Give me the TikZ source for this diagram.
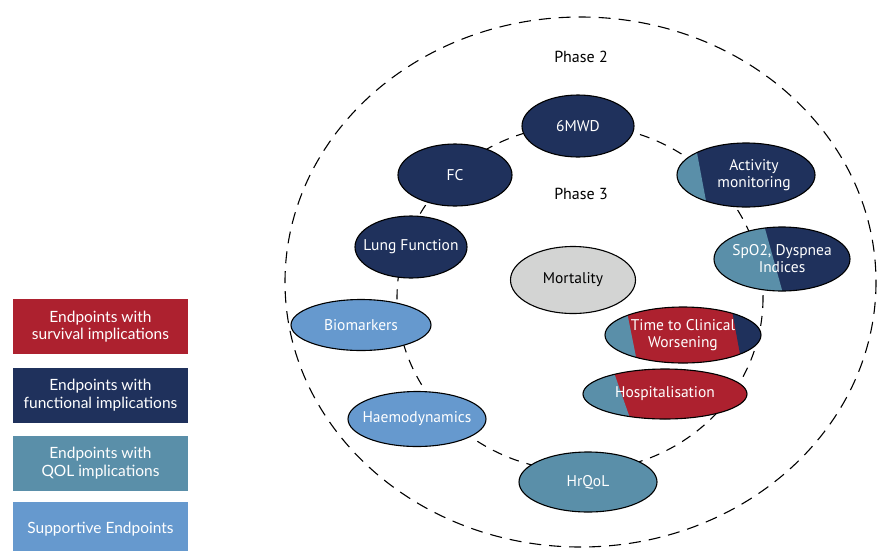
\documentclass[tikz,border=0pt]{standalone}
\usepackage{fontspec}
\setmainfont{PT Sans}
\newfontfamily\legfont{Lato}
\usetikzlibrary{shapes.geometric}
\definecolor{survred}{HTML}{AD212F}
\definecolor{funcnavy}{HTML}{1F315C}
\definecolor{qolteal}{HTML}{5A8FA9}
\definecolor{suppblue}{HTML}{6699CE}
\definecolor{mortgray}{HTML}{D3D4D3}
\tikzset{
  ep/.style={ellipse, draw=black, line width=1.1pt, inner ysep=0pt, inner xsep=-25pt, text=white, align=center, font=\fontsize{15.5}{17}\selectfont},
  legbox/.style={rectangle, minimum width=175pt, minimum height=55pt, inner sep=0pt, text=white, align=center, font=\legfont\fontsize{15.5}{17.5}\selectfont},
  ring/.style={dash pattern=on 12pt off 8pt, line width=1.1pt},
  phase/.style={font=\fontsize{16}{18}\selectfont},
}

\begin{document}
\begin{tikzpicture}[x=1pt, y=-1pt]
\useasboundingbox (0,0) rectangle (878,550);

% phase 2 and phase 3 rings
\draw[ring] (580.5,282) ellipse [x radius=295.5, y radius=265];
\draw[ring, dash pattern=on 10pt off 8pt] (580,298) ellipse [x radius=183, y radius=173];

\node[phase] (ph2) at (581,57) {Phase 2};
\node[phase] (ph3) at (581,194) {Phase 3};

% endpoints, one colour
\node[ep, fill=funcnavy, minimum width=112pt, minimum height=62pt] (mwd) at (578,126) {6MWD};
\node[ep, fill=funcnavy, minimum width=114pt, minimum height=62pt] (fc) at (455,175) {FC};
\node[ep, fill=funcnavy, minimum width=112pt, minimum height=62pt] (lung) at (411,247) {Lung Function};
\node[ep, fill=suppblue, minimum width=140pt, minimum height=51pt] (bio) at (361,325) {Biomarkers};
\node[ep, fill=suppblue, minimum width=138pt, minimum height=55pt] (haemo) at (417,419) {Haemodynamics};
\node[ep, fill=qolteal, minimum width=138pt, minimum height=60pt] (hrqol) at (588,482) {HrQoL};
\node[ep, fill=mortgray, text=black, minimum width=125pt, minimum height=67pt] (mort) at (573,280) {Mortality};

% endpoints, split colours
\begin{scope}
  \clip (746,175) ellipse [x radius=69, y radius=32];
  \fill[funcnavy] (670,140) rectangle (820,210);
  \fill[qolteal] (670,140) -- (694.6,140) -- (707.7,210) -- (670,210) -- cycle;
\end{scope}
\node[ep, minimum width=138pt, minimum height=64pt,
  label={[xshift=8pt, text=white, align=center, font=\fontsize{15.5}{17}\selectfont]center:Activity\\monitoring}] (act) at (746,175) {};

\begin{scope}
  \clip (782,259) ellipse [x radius=68, y radius=32];
  \fill[funcnavy] (710,225) rectangle (855,295);
  \fill[qolteal] (710,225) -- (764,225) -- (783.4,295) -- (710,295) -- cycle;
\end{scope}
\node[ep, minimum width=136pt, minimum height=64pt] (spo) at (782,259) {SpO2, Dyspnea\\Indices};

\begin{scope}
  \clip (683,335) ellipse [x radius=78, y radius=28];
  \fill[survred] (600,305) rectangle (765,365);
  \fill[qolteal] (600,305) -- (625.6,305) -- (637.6,365) -- (600,365) -- cycle;
  \fill[funcnavy] (731,305) -- (765,305) -- (765,365) -- (742,365) -- cycle;
\end{scope}
\node[ep, minimum width=156pt, minimum height=56pt] (tcw) at (683,335) {Time to Clinical\\Worsening};

\begin{scope}
  \clip (665,394) ellipse [x radius=82, y radius=25];
  \fill[survred] (580,367) rectangle (750,421);
  \fill[qolteal] (580,367) -- (612,367) -- (631,421) -- (580,421) -- cycle;
\end{scope}
\node[ep, minimum width=164pt, minimum height=50pt] (hosp) at (665,394) {Hospitalisation};

% legend
\node[legbox, fill=survred] (legsurv) at (100.5,326.5) {Endpoints with\\survival implications};
\node[legbox, fill=funcnavy] (legfunc) at (100.5,395) {Endpoints with\\functional implications};
\node[legbox, fill=qolteal] (legqol) at (100.5,463) {Endpoints with\\QOL implications};
\node[legbox, fill=suppblue] (legsupp) at (100.5,529.5) {Supportive Endpoints};

\end{tikzpicture}
\end{document}
